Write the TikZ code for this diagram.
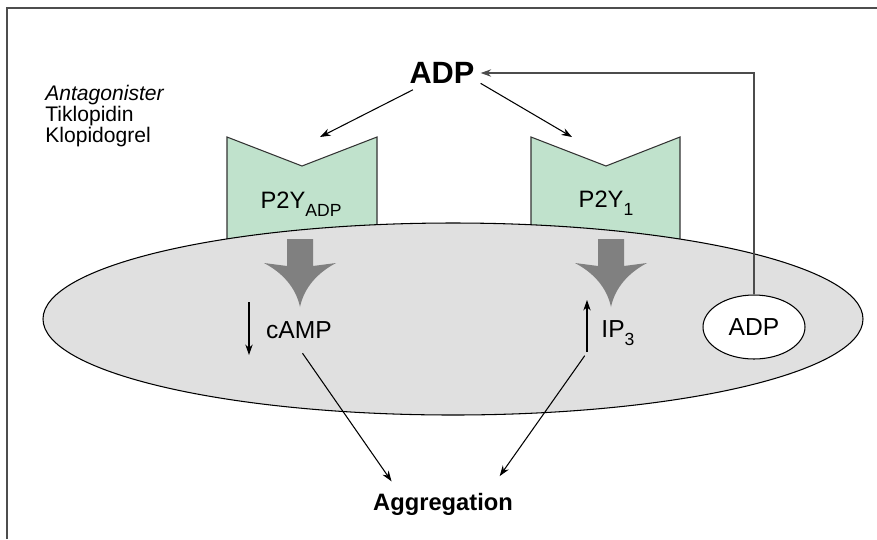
\documentclass[tikz,border=0pt]{standalone}
\usepackage{fontspec}
\setmainfont{Liberation Sans}
\usepackage{tikz}
\usetikzlibrary{arrows.meta,shapes.geometric}
\definecolor{frameline}{HTML}{4D4D4D}
\definecolor{receptor}{HTML}{C0E2CC}
\definecolor{cellgray}{HTML}{E0E0E0}
\definecolor{signal}{HTML}{808080}
\newcommand{\lowsub}[1]{\raisebox{-5pt}{\fontsize{10}{10}\selectfont #1}}
\tikzset{
  box/.style={draw=frameline, line width=1.1pt},
  rec/.style={draw=black!80, fill=receptor, line width=0.6pt},
  cellBody/.style={draw=black, fill=cellgray, line width=0.6pt},
  bigArrow/.style={fill=signal},
  conn/.style={->, draw=black, line width=0.6pt},
  feed/.style={->, draw=black!70, line width=0.6pt},
  ligand/.style={font=\fontsize{17.5}{17.5}\selectfont\bfseries},
  recLabel/.style={font=\fontsize{13.5}{13.5}\selectfont, anchor=base},
  msgLabel/.style={font=\fontsize{14}{14}\selectfont, anchor=base},
  outLabel/.style={font=\fontsize{13.5}{13.5}\selectfont\bfseries, anchor=base},
  drugList/.style={font=\fontsize{12}{12}\selectfont, align=left, anchor=north west, inner sep=0pt},
  store/.style={ellipse, draw=black, fill=white, line width=0.6pt,
    minimum width=2.04cm, minimum height=1.28cm, inner sep=0pt,
    font=\fontsize{14}{14}\selectfont}
}
\begin{document}
\begin{tikzpicture}[x=0.02cm, y=-0.02cm, >={Stealth[length=6pt,width=4.2pt]}]
  \useasboundingbox (0,0) rectangle (877,539);
  \draw[box] (7,539) -- (7,8) -- (877,8);

  % receptors, lower part hidden by the cell
  \draw[rec] (227,137) -- (302,166) -- (377,137) -- (377,270) -- (227,270) -- cycle;
  \draw[rec] (531,137) -- (606,166) -- (680,137) -- (680,270) -- (531,270) -- cycle;

  \draw[cellBody] (453,319) ellipse (410 and 96);

  \foreach \cx in {300,611}
    \fill[bigArrow] (\cx-13,239) -- (\cx+13,239) -- (\cx+13,266) -- (\cx+36,263)
      .. controls (\cx+17,273) and (\cx+4,288) .. (\cx,307)
      .. controls (\cx-4,288) and (\cx-17,273) .. (\cx-36,263) -- (\cx-13,266) -- cycle;

  \node[ligand] (adp) at (442,73) {ADP};
  \node[drugList] (drugs) at (45,85) {\textit{Antagonister}\\Tiklopidin\\Klopidogrel};
  \node[recLabel] (p2yadp) at (301,208) {P2Y\lowsub{ADP}};
  \node[recLabel] (p2yone) at (606,207) {P2Y\lowsub{1}};
  \node[msgLabel] (camp) at (299,338) {cAMP};
  \node[msgLabel] (ip) at (618,337) {IP\lowsub{3}};
  \node[store] (sadp) at (754,327) {ADP};
  \node[outLabel] (aggr) at (443,510) {Aggregation};

  \coordinate (siteadp) at (320,137);
  \coordinate (siteone) at (572,137);

  \draw[conn] (adp.210) -- (siteadp);
  \draw[conn] (adp.-15) -- (siteone);
  \draw[feed] (sadp.north) |- (adp.east);

  \draw[conn] (249,302) -- (249,355);
  \draw[conn] (587,352) -- (587,300);
  \draw[conn] ([xshift=2pt,yshift=-5pt]camp.south) -- ([xshift=14pt,yshift=3pt]aggr.north west);
  \draw[conn] ([xshift=-6pt,yshift=-2pt]ip.south west) -- ([xshift=-11pt,yshift=6pt]aggr.north east);
\end{tikzpicture}
\end{document}
